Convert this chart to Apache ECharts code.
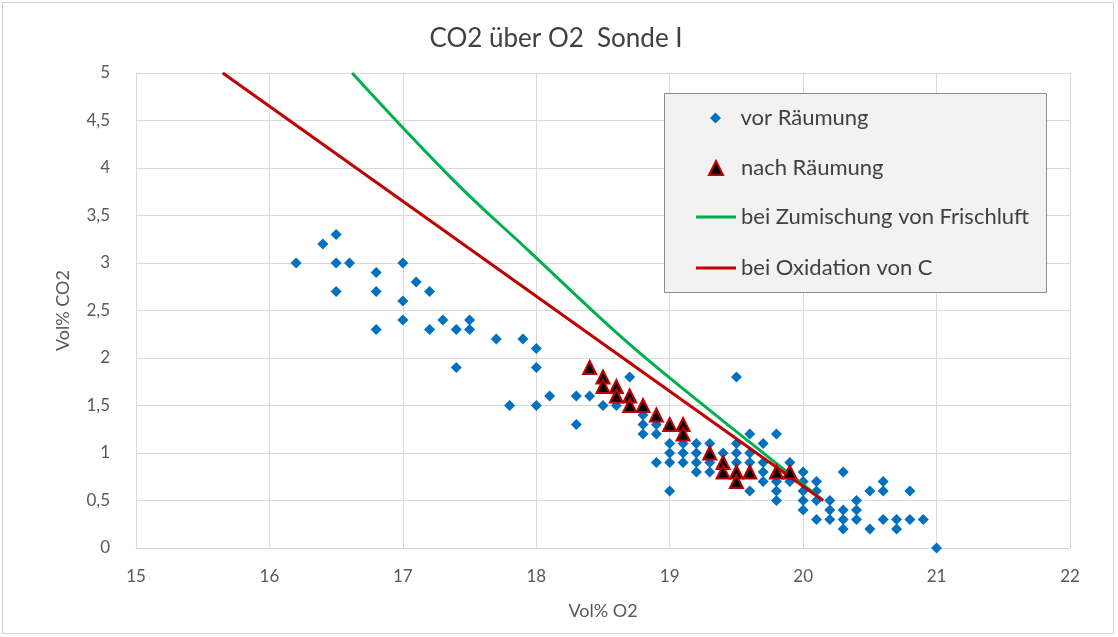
<!DOCTYPE html>
<html>
<head>
<meta charset="utf-8">
<title>CO2 über O2 Sonde I</title>
<script src="https://cdn.jsdelivr.net/npm/echarts@6/dist/echarts.min.js"></script>
<style>
  html, body { margin: 0; padding: 0; background: #ffffff; }
  #chart { width: 1118px; height: 637px; }
</style>
</head>
<body>
<div id="chart"></div>
<script>
// Messwerte Sonde I, jeweils [O2 Vol%, CO2 Vol%]
const vorRaeumung = [
  [16.2, 3.0], [16.4, 3.2], [16.5, 3.3], [16.5, 3.0], [16.6, 3.0], [16.5, 2.7],
  [16.8, 2.9], [16.8, 2.7], [16.8, 2.3], [17.0, 3.0], [17.0, 2.6], [17.0, 2.4],
  [17.1, 2.8], [17.2, 2.7], [17.2, 2.3], [17.3, 2.4], [17.4, 2.3], [17.5, 2.4],
  [17.5, 2.3], [17.4, 1.9], [17.7, 2.2], [17.9, 2.2], [18.0, 2.1], [18.0, 1.9],
  [17.8, 1.5], [18.0, 1.5], [18.1, 1.6], [18.3, 1.6], [18.4, 1.6], [18.3, 1.3],
  [18.5, 1.5], [18.6, 1.5], [18.7, 1.8],
  [18.8, 1.4], [18.8, 1.3], [18.8, 1.2], [18.9, 1.3], [18.9, 1.2], [18.9, 0.9],
  [19.0, 1.1], [19.0, 1.0], [19.0, 0.9], [19.0, 0.6],
  [19.1, 1.1], [19.1, 1.0], [19.1, 0.9],
  [19.2, 1.1], [19.2, 1.0], [19.2, 0.9], [19.2, 0.8],
  [19.3, 1.1], [19.3, 0.9], [19.3, 0.8],
  [19.4, 1.0],
  [19.5, 1.8], [19.5, 1.1], [19.5, 1.0], [19.5, 0.9],
  [19.6, 1.2], [19.6, 1.0], [19.6, 0.9], [19.6, 0.6],
  [19.7, 1.1], [19.7, 0.9], [19.7, 0.8], [19.7, 0.7],
  [19.8, 1.2], [19.8, 0.7], [19.8, 0.6], [19.8, 0.5],
  [19.9, 0.9], [19.9, 0.7],
  [20.0, 0.8], [20.0, 0.7], [20.0, 0.6], [20.0, 0.5], [20.0, 0.4],
  [20.1, 0.7], [20.1, 0.6], [20.1, 0.5], [20.1, 0.3],
  [20.2, 0.5], [20.2, 0.4], [20.2, 0.3],
  [20.3, 0.8], [20.3, 0.4], [20.3, 0.3], [20.3, 0.2],
  [20.4, 0.5], [20.4, 0.4], [20.4, 0.3],
  [20.5, 0.6], [20.5, 0.2],
  [20.6, 0.7], [20.6, 0.6], [20.6, 0.3],
  [20.7, 0.3], [20.7, 0.2],
  [20.8, 0.6], [20.8, 0.3],
  [20.9, 0.3],
  [21.0, 0.0]
];

const nachRaeumung = [
  [18.4, 1.9], [18.5, 1.8], [18.5, 1.7], [18.6, 1.7], [18.6, 1.6], [18.7, 1.6],
  [18.7, 1.5], [18.8, 1.5], [18.9, 1.4], [19.0, 1.3], [19.1, 1.3], [19.1, 1.2],
  [19.3, 1.0], [19.4, 0.9], [19.4, 0.8], [19.5, 0.8], [19.5, 0.7], [19.6, 0.8],
  [19.8, 0.8], [19.9, 0.8]
];

// Verlauf bei Zumischung von Frischluft
const frischluftLinie = [
  [16.62, 5.0], [17.38, 3.87], [17.95, 3.12], [18.59, 2.28],
  [19.0, 1.79], [19.63, 1.08], [20.15, 0.5]
];

// Verlauf bei Oxidation von C
const oxidationLinie = [
  [15.65, 5.0], [20.15, 0.5]
];

const seriesNames = [
  'vor Räumung',
  'nach Räumung',
  'bei Zumischung von Frischluft',
  'bei Oxidation von C'
];

const FONT = 'Lato, "Open Sans", sans-serif';
const TEXT_GREY = '#595959';
const GRID_GREY = '#d9d9d9';

const BLUE = '#0070c0';
const RED = '#c00000';
const GREEN = '#00b050';

function komma(v) {
  return String(v).replace('.', ',');
}

function legendRow(name, left, top, icon, itemHeight, itemStyle) {
  return {
    data: [{ name: name, icon: icon, itemStyle: itemStyle }],
    left: left,
    top: top,
    padding: 0,
    orient: 'vertical',
    itemWidth: 40,
    itemHeight: itemHeight,
    selectedMode: false,
    z: 10,
    textStyle: { fontFamily: FONT, fontSize: 22, color: '#404040' }
  };
}

const chart = echarts.init(document.getElementById('chart'), null, { renderer: 'canvas' });

chart.setOption({
  backgroundColor: '#ffffff',
  animation: false,
  title: {
    text: 'CO2 über O2  Sonde I',
    left: 556,
    top: 26,
    padding: 0,
    textAlign: 'center',
    textStyle: { fontFamily: FONT, fontSize: 26, fontWeight: 'normal', color: '#404040' }
  },
  graphic: [
    {
      type: 'rect',
      shape: { x: 2.5, y: 2.5, width: 1111, height: 631 },
      style: { fill: null, stroke: '#d0d0d0', lineWidth: 1 },
      z: 0,
      silent: true
    },
    {
      type: 'rect',
      shape: { x: 664.5, y: 93.5, width: 382, height: 199 },
      style: { fill: '#f2f2f2', stroke: '#8c8c8c', lineWidth: 1 },
      z: 8,
      silent: true
    }
  ],
  legend: [
    legendRow(seriesNames[0], 710, 107, 'path://M0,-1L1,0L0,1L-1,0Z', 11, { color: BLUE }),
    legendRow(seriesNames[1], 708, 157, 'path://M0,-1L1,1L-1,1Z', 14, { color: '#000000', borderColor: RED, borderWidth: 2 }),
    legendRow(seriesNames[2], 696, 206, 'rect', 3, { color: GREEN, borderWidth: 0 }),
    legendRow(seriesNames[3], 696, 257, 'rect', 3, { color: RED, borderWidth: 0 })
  ],
  grid: { left: 136, right: 48, top: 73, bottom: 89 },
  xAxis: {
    type: 'value',
    min: 15,
    max: 22,
    interval: 1,
    name: 'Vol% O2',
    nameLocation: 'middle',
    nameGap: 54,
    nameTextStyle: { fontFamily: FONT, fontSize: 18, color: TEXT_GREY },
    axisLine: { show: true, lineStyle: { color: GRID_GREY, width: 1 } },
    axisTick: { show: false },
    axisLabel: { fontFamily: FONT, fontSize: 17, color: TEXT_GREY, margin: 20 },
    splitLine: { show: true, lineStyle: { color: GRID_GREY, width: 1 } }
  },
  yAxis: {
    type: 'value',
    min: 0,
    max: 5,
    interval: 0.5,
    name: 'Vol% CO2',
    nameLocation: 'middle',
    nameGap: 64,
    nameRotate: 90,
    nameTextStyle: { fontFamily: FONT, fontSize: 18, color: TEXT_GREY },
    axisLine: { show: true, lineStyle: { color: GRID_GREY, width: 1 } },
    axisTick: { show: false },
    axisLabel: { fontFamily: FONT, fontSize: 17, color: TEXT_GREY, margin: 26, formatter: komma },
    splitLine: { show: true, lineStyle: { color: GRID_GREY, width: 1 } }
  },
  series: [
    {
      name: seriesNames[0],
      type: 'scatter',
      data: vorRaeumung,
      symbol: 'diamond',
      symbolSize: 11,
      itemStyle: { color: BLUE, opacity: 1 },
      z: 2
    },
    {
      name: seriesNames[2],
      type: 'line',
      data: frischluftLinie,
      symbol: 'none',
      smooth: 0.4,
      lineStyle: { color: GREEN, width: 3 },
      itemStyle: { color: GREEN },
      z: 3
    },
    {
      name: seriesNames[3],
      type: 'line',
      data: oxidationLinie,
      symbol: 'none',
      lineStyle: { color: RED, width: 3 },
      itemStyle: { color: RED },
      z: 4
    },
    {
      name: seriesNames[1],
      type: 'scatter',
      data: nachRaeumung,
      symbol: 'triangle',
      symbolSize: 13,
      itemStyle: { color: '#000000', borderColor: RED, borderWidth: 2, opacity: 1 },
      z: 5
    }
  ]
});
</script>
</body>
</html>
